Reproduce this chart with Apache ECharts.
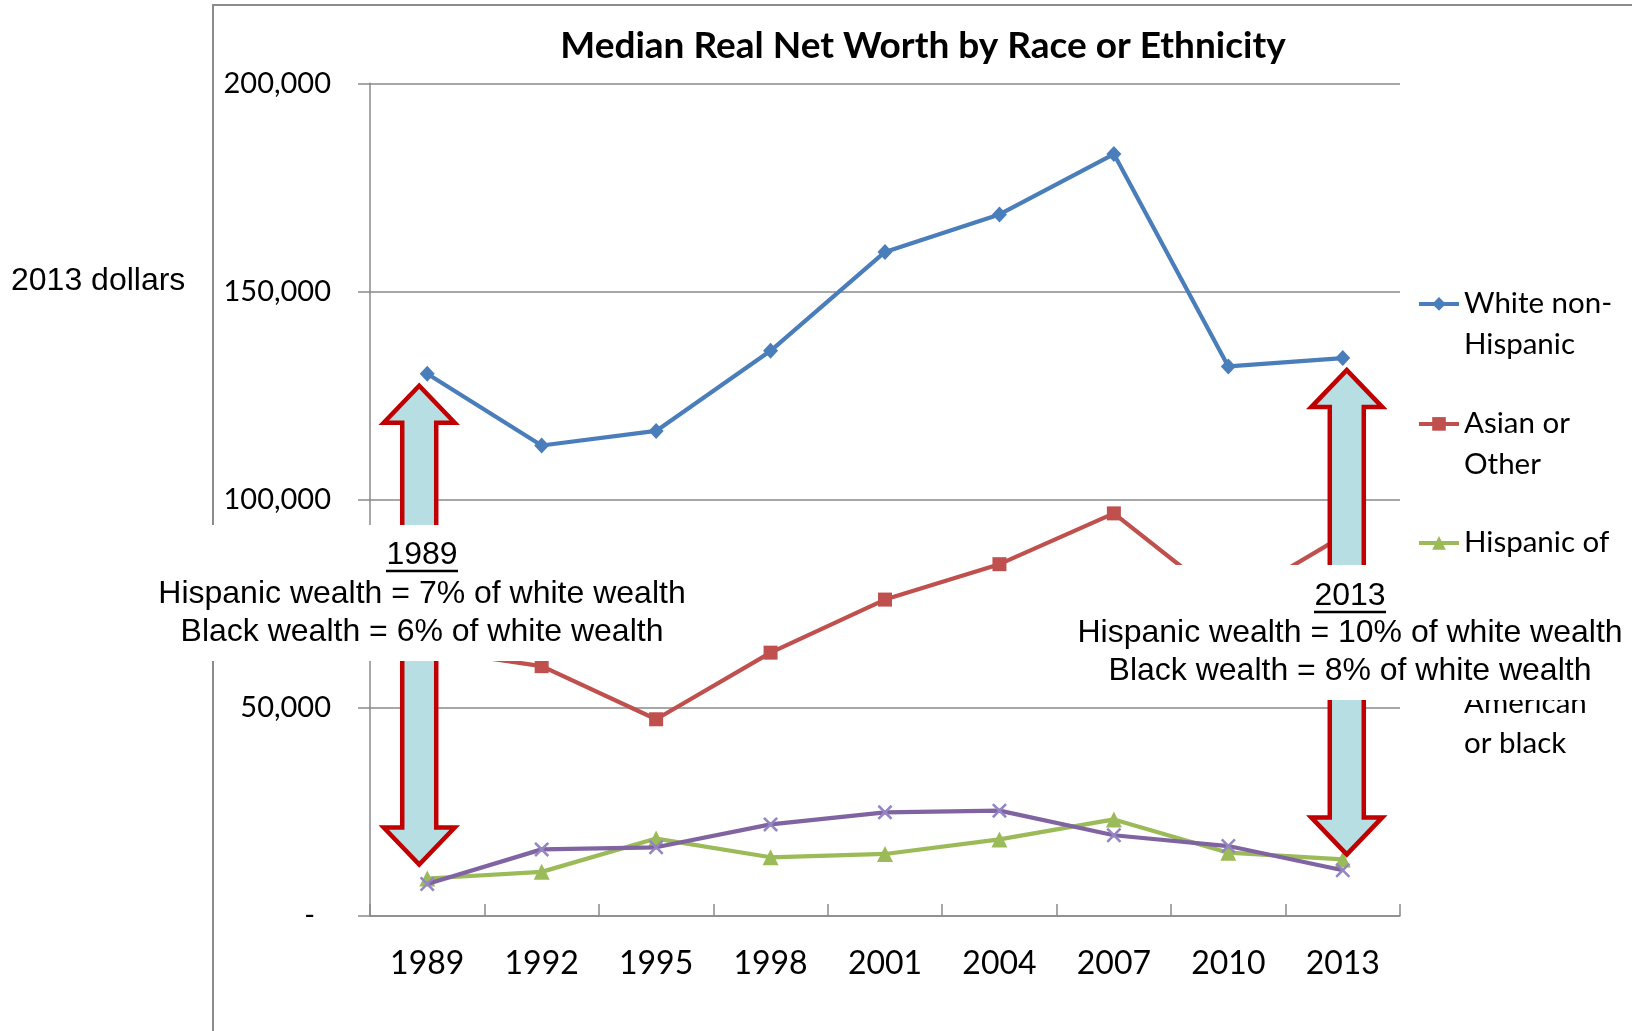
<!DOCTYPE html>
<html><head><meta charset="utf-8">
<script src="https://cdn.jsdelivr.net/npm/echarts@6/dist/echarts.min.js"></script>
<style>html,body{margin:0;padding:0;background:#fff}#c{width:1632px;height:1031px}</style>
</head><body><div id="c"></div>
<script>
// ---- data ----
const years = ['1989','1992','1995','1998','2001','2004','2007','2010','2013'];
const whiteNonHispanic = [130250, 113000, 116500, 135750, 159500, 168500, 183000, 132000, 134000];
const asianOrOther     = [64000, 60000, 47250, 63250, 76000, 84500, 96700, 75000, 91250];
const hispanicAnyRace  = [9000, 10600, 18600, 14100, 14900, 18400, 23200, 15200, 13600];
const africanAmerican  = [7700, 16000, 16500, 22000, 24900, 25300, 19400, 16800, 11000];
const seriesNames = ['White non-Hispanic','Asian or Other','Hispanic of any race','African-American or black'];
const legendLines = [['White non-','Hispanic'],['Asian or','Other'],['Hispanic of','any race'],['African-','American','or black']];
const yMin = 0, yMax = 200000, yStep = 50000;
const titleText = 'Median Real Net Worth by Race or Ethnicity';
const unitText = '2013 dollars';
const note1989 = ['1989','Hispanic wealth = 7% of white wealth','Black wealth = 6% of white wealth'];
const note2013 = ['2013','Hispanic wealth = 10% of white wealth','Black wealth = 8% of white wealth'];

// ---- styles ----
const colors = ['#4A7EBB','#C0504D','#9BBB59','#8064A2'];
const xSym = 'path://M0,1.2L1.2,0L5,3.8L8.8,0L10,1.2L6.2,5L10,8.8L8.8,10L5,6.2L1.2,10L0,8.8L3.8,5Z';
const symbols = ['diamond','rect','triangle',xSym];
const symSizes = [[15,16],14,16,15];
const symColors = ['#4A7EBB','#C0504D','#9BBB59','#9486c4'];
const calib = 'Lato, "Open Sans", sans-serif';
const arial = '"Liberation Sans", Arial, sans-serif';
const gridC = '#8a8a8a';

const chart = echarts.init(document.getElementById('c'), null, {renderer:'canvas'});
const dataArr = [whiteNonHispanic, asianOrOther, hispanicAnyRace, africanAmerican];
const L = 40.6;
const legendTops = [243, 363, 482, 561];

chart.setOption({
  animation: false,
  backgroundColor: '#fff',
  grid: {left: 370, right: 232, top: 83.3, bottom: 115, outerBoundsMode: 'none', containLabel: false},
  xAxis: {
    type: 'category', data: years, boundaryGap: true,
    axisLine: {lineStyle: {color: gridC, width: 1.5}},
    axisTick: {show: true, inside: true, length: 12, lineStyle: {color: gridC, width: 1.5}},
    axisLabel: {margin: 32, fontSize: 32, fontFamily: calib, color: '#000'},
    splitLine: {show: false}
  },
  yAxis: {
    type: 'value', min: yMin, max: yMax, interval: yStep,
    axisLine: {show: true, lineStyle: {color: gridC, width: 1.5}},
    axisTick: {show: true, inside: false, length: 12, lineStyle: {color: gridC, width: 1.5}},
    axisLabel: {
      margin: 39, fontSize: 29, fontFamily: calib, color: '#000',
      formatter: v => v === 0 ? '{z|-}' : v.toLocaleString('en-US'),
      rich: {z: {fontSize: 29, fontFamily: calib, color: '#000', padding: [0, 16, 0, 0]}}
    },
    splitLine: {show: true, lineStyle: {color: gridC, width: 1.5}}
  },
  legend: seriesNames.map((n, i) => ({
    data: [n], orient: 'vertical', left: 1417, top: legendTops[i], padding: 0,
    itemWidth: 40, itemHeight: 17, selectedMode: false,
    lineStyle: {width: 4},
    formatter: () => Array(legendLines[i].length - 1).fill('').concat(legendLines[i]).join('\n'),
    textStyle: {fontSize: 29.5, lineHeight: L, fontFamily: calib, color: '#000'}
  })),
  series: seriesNames.map((n, i) => ({
    name: n, type: 'line', data: dataArr[i],
    symbol: symbols[i], symbolSize: symSizes[i], showSymbol: true,
    lineStyle: {width: 4.2, color: colors[i]},
    itemStyle: {color: symColors[i]},
    z: 2 + i
  }))
});

function px(i, v) { return chart.convertToPixel({xAxisIndex: 0, yAxisIndex: 0}, [i, v]); }
function arrow(cx, yt, yb) {
  const hw = 35.5, sw = 17, hh = 37;
  return {
    type: 'polygon', z: 50,
    shape: {points: [[cx, yt], [cx + hw, yt + hh], [cx + sw, yt + hh], [cx + sw, yb - hh], [cx + hw, yb - hh],
      [cx, yb], [cx - hw, yb - hh], [cx - sw, yb - hh], [cx - sw, yt + hh], [cx - hw, yt + hh]]},
    style: {fill: '#b7dee3', stroke: '#c00000', lineWidth: 4.5, lineJoin: 'miter'}
  };
}
function noteBox(lines, cx, x0, y0, x1, y1, ys) {
  const uw = 72;
  const els = [{type: 'rect', shape: {x: x0, y: y0, width: x1 - x0, height: y1 - y0}, style: {fill: '#fff'}, z: 90}];
  lines.forEach((t, k) => els.push({type: 'text', z: 91, style: {text: t, x: cx, y: ys[k], align: 'center', verticalAlign: 'middle', fontSize: 32, fontFamily: arial, fill: '#000'}}));
  els.push({type: 'line', z: 91, shape: {x1: cx - uw / 2, y1: ys[0] + 16, x2: cx + uw / 2, y2: ys[0] + 16}, style: {stroke: '#000', lineWidth: 2.5}});
  return els;
}

const a0t = px(0, whiteNonHispanic[0]), a0b = px(0, hispanicAnyRace[0]);
const a8t = px(8, whiteNonHispanic[8]), a8b = px(8, hispanicAnyRace[8]);

const graphics = [
  {type: 'line', z: 1, shape: {x1: 213, y1: 5, x2: 213, y2: 1031}, style: {stroke: '#8c8c8c', lineWidth: 2}},
  {type: 'line', z: 1, shape: {x1: 212, y1: 5, x2: 1632, y2: 5}, style: {stroke: '#8c8c8c', lineWidth: 2}},
  {type: 'text', z: 10, style: {text: titleText, x: 923, y: 46, align: 'center', verticalAlign: 'middle', fontSize: 37, fontWeight: 'bold', fontFamily: calib, fill: '#000'}},
  {type: 'text', z: 10, style: {text: unitText, x: 11, y: 281, align: 'left', verticalAlign: 'middle', fontSize: 32, fontFamily: arial, fill: '#000'}},
  arrow(a0t[0] - 8, a0t[1] + 12, a0b[1] - 14),
  arrow(a8t[0] + 4, a8t[1] + 12, a8b[1] - 5)
].concat(noteBox(note1989, 422, 150, 525, 695, 661, [555, 594, 632]))
 .concat(noteBox(note2013, 1350, 1070, 565, 1632, 700, [596, 633, 671]));

chart.setOption({graphic: {elements: graphics}});
</script></body></html>
